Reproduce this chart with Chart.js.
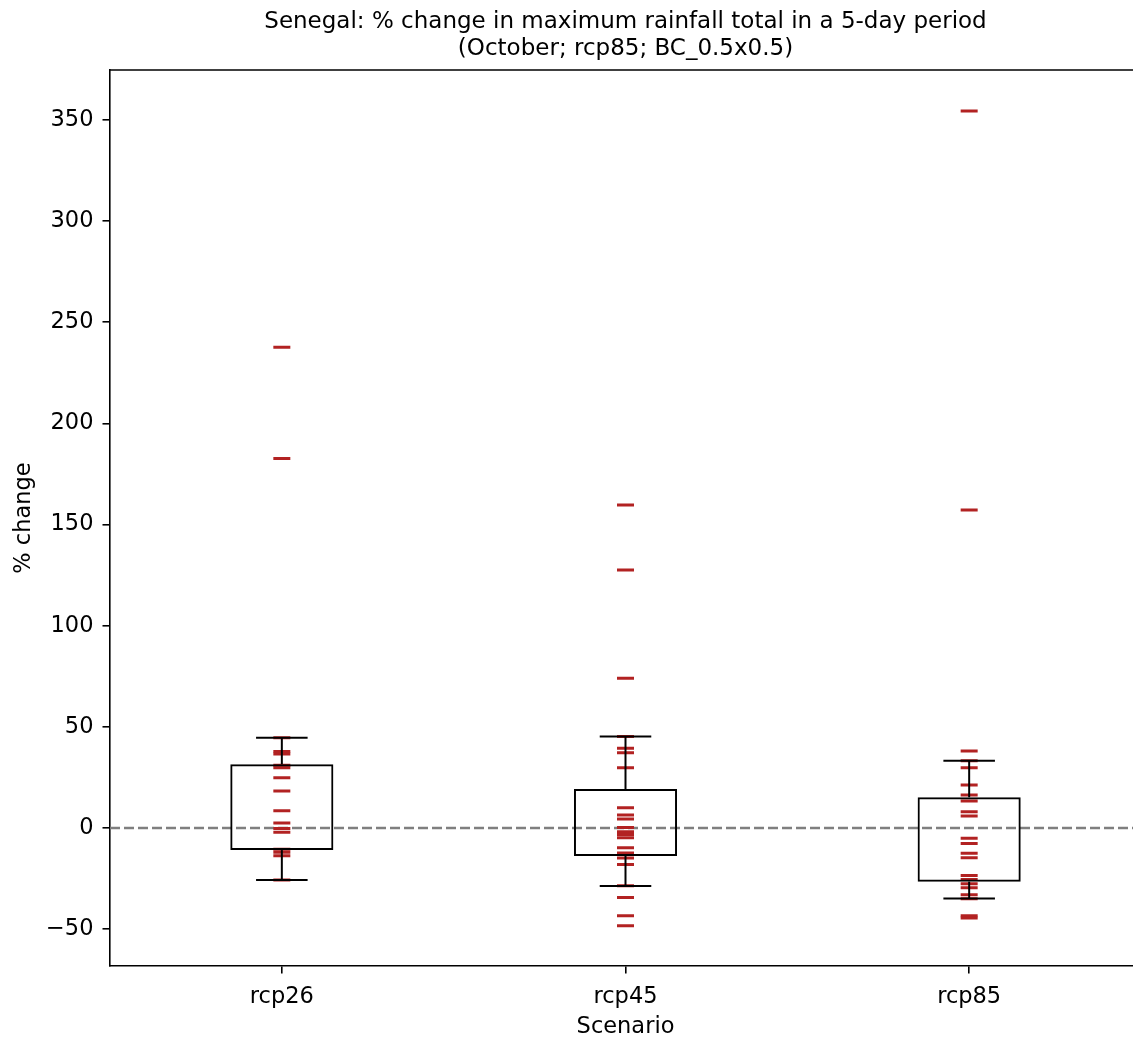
<!DOCTYPE html>
<html>
<head>
<meta charset="utf-8">
<script src="https://cdn.jsdelivr.net/npm/chart.js@4/dist/chart.umd.min.js"></script>
<style>
  html, body { margin: 0; padding: 0; background: #fff; overflow: hidden; width: 1133px; height: 1038px; }
  #wrap { width: 1133px; height: 1038px; overflow: hidden; position: relative; }
  canvas { display: block; position: absolute; left: 0; top: 0; }
</style>
</head>
<body>
<div id="wrap"><canvas id="boxChart" width="1145" height="1038" style="width:1145px;height:1038px"></canvas></div>
<script>
const scenarios = ["rcp26", "rcp45", "rcp85"];

// % change per model run
const rcp26Changes = [237.6, 182.7, 44.6, 37.8, 36.6, 31.0, 29.8, 24.9, 18.3, 8.6, 2.5, -0.2, -2.1, -10.5, -12.0, -13.7, -25.7];
const rcp45Changes = [159.7, 127.5, 74.0, 45.3, 39.4, 37.2, 29.8, 10.0, 6.4, 4.5, 0.3, -1.8, -3.2, -4.8, -9.7, -12.4, -14.8, -18.0, -28.5, -34.4, -43.3, -48.3];
const rcp85Changes = [354.4, 157.2, 38.1, 33.3, 29.8, 21.3, 16.3, 13.3, 8.0, 6.0, -5.1, -7.6, -12.5, -14.7, -23.5, -25.5, -27.5, -29.5, -33.0, -35.0, -43.3, -44.5];

// box stats (whiskers / quartiles)
const lowerWhiskers = [-25.7, -28.7, -34.8];
const firstQuartiles = [-10.9, -13.8, -26.5];
const thirdQuartiles = [31.5, 19.3, 15.2];
const upperWhiskers = [44.6, 45.3, 33.3];

const yTickValues = [-50, 0, 50, 100, 150, 200, 250, 300, 350];
const titleLines = ["Senegal: % change in maximum rainfall total in a 5-day period", "(October; rcp85; BC_0.5x0.5)"];

const FONT = "'DejaVu Sans', sans-serif";
const allChanges = [rcp26Changes, rcp45Changes, rcp85Changes];

const markerPoints = [];
allChanges.forEach(function (list, i) {
  list.forEach(function (v) {
    markerPoints.push({ x: scenarios[i], y: v });
  });
});

//whiskers, caps, zero line, top spine and title
const boxExtras = {
  id: "boxExtras",
  beforeDatasetsDraw(chart) {
    const { ctx, chartArea, scales } = chart;
    const y0 = scales.y.getPixelForValue(0);
    ctx.save();
    ctx.strokeStyle = "#7f7f7f";
    ctx.lineWidth = 2.5;
    ctx.setLineDash([10, 4]);
    ctx.beginPath();
    ctx.moveTo(chartArea.left, y0);
    ctx.lineTo(chartArea.right, y0);
    ctx.stroke();
    ctx.restore();
  },
  afterDatasetsDraw(chart) {
    const { ctx, chartArea, scales } = chart;
    const x = scales.x, y = scales.y;
    const capHalf = (x.getPixelForValue(1) - x.getPixelForValue(0)) * 0.075;

    ctx.save();
    ctx.strokeStyle = "#000";
    ctx.lineWidth = 2;
    scenarios.forEach(function (s, i) {
      const cx = x.getPixelForValue(i);
      const segs = [
        [cx, y.getPixelForValue(thirdQuartiles[i]), cx, y.getPixelForValue(upperWhiskers[i])],
        [cx, y.getPixelForValue(firstQuartiles[i]), cx, y.getPixelForValue(lowerWhiskers[i])],
        [cx - capHalf, y.getPixelForValue(upperWhiskers[i]), cx + capHalf, y.getPixelForValue(upperWhiskers[i])],
        [cx - capHalf, y.getPixelForValue(lowerWhiskers[i]), cx + capHalf, y.getPixelForValue(lowerWhiskers[i])]
      ];
      segs.forEach(function (l) {
        ctx.beginPath();
        ctx.moveTo(l[0], l[1]);
        ctx.lineTo(l[2], l[3]);
        ctx.stroke();
      });
    });

    // top spine (the right one falls outside the picture)
    ctx.lineWidth = 1.6;
    ctx.beginPath();
    ctx.moveTo(chartArea.left, chartArea.top);
    ctx.lineTo(chartArea.right, chartArea.top);
    ctx.stroke();

    // title centred over the axes
    ctx.fillStyle = "#000";
    ctx.font = "23px " + FONT;
    ctx.textAlign = "center";
    ctx.textBaseline = "alphabetic";
    const mid = (chartArea.left + chartArea.right) / 2;
    ctx.fillText(titleLines[0], mid, 28);
    ctx.fillText(titleLines[1], mid, 55);
    ctx.restore();
  }
};

new Chart(document.getElementById("boxChart"), {
  data: {
    labels: scenarios,
    datasets: [
      {
        type: "bar",
        label: "box",
        data: scenarios.map((s, i) => [firstQuartiles[i], thirdQuartiles[i]]),
        backgroundColor: "rgba(0,0,0,0)",
        borderColor: "#000",
        borderWidth: 2,
        borderSkipped: false,
        barPercentage: 0.3,
        categoryPercentage: 1.0,
        order: 0
      },
      {
        type: "line",
        label: "models",
        data: markerPoints,
        showLine: false,
        pointStyle: "line",
        pointRadius: 8.5,
        pointBorderWidth: 3,
        pointBorderColor: "#b22222",
        pointBackgroundColor: "#b22222",
        order: 1
      }
    ]
  },
  options: {
    responsive: false,
    animation: false,
    events: [],
    // axes run a few px past the right edge of the picture
    layout: { autoPadding: false, padding: { top: 70, right: 4, left: 0, bottom: 0 } },
    plugins: {
      legend: { display: false },
      tooltip: { enabled: false },
      title: { display: false }
    },
    scales: {
      x: {
        type: "category",
        offset: true,
        grid: { offset: false, drawOnChartArea: false, drawTicks: true, tickLength: 7.5, color: "#000", lineWidth: 1.6 },
        border: { display: true, color: "#000", width: 1.6 },
        ticks: { color: "#000", padding: 10, font: { family: FONT, size: 22.5 } },
        title: { display: true, text: "Scenario", color: "#000", padding: { top: 0, bottom: -3 }, font: { family: FONT, size: 22.5 } },
        afterFit(scale) { scale.height = 72; }
      },
      y: {
        type: "linear",
        min: -68.2,
        max: 374.7,
        afterBuildTicks(scale) {
          scale.ticks = yTickValues.map(v => ({ value: v }));
        },
        grid: { drawOnChartArea: false, drawTicks: true, tickLength: 7.5, color: "#000", lineWidth: 1.6 },
        border: { display: true, color: "#000", width: 1.6 },
        ticks: {
          color: "#000",
          padding: 9,
          font: { family: FONT, size: 22.5 },
          callback: v => (v < 0 ? "\u2212" + Math.abs(v) : String(v))
        },
        title: { display: true, text: "% change", color: "#000", padding: { top: 11, bottom: 0 }, font: { family: FONT, size: 22.5 } },
        afterFit(scale) { scale.width = 110; }
      }
    }
  },
  plugins: [boxExtras]
});
</script>
</body>
</html>
